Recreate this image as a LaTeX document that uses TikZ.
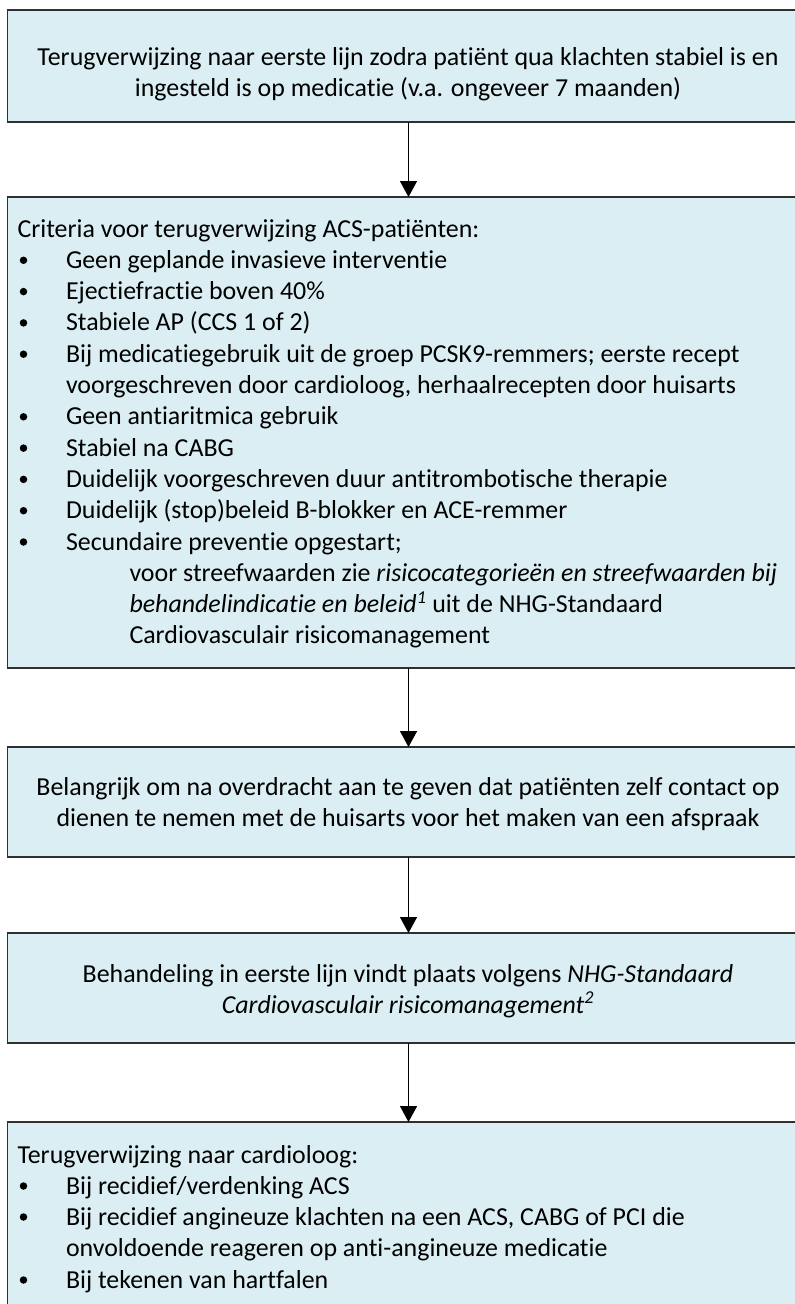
\documentclass[tikz,border=0pt]{standalone}
\usepackage{fontspec}
\setmainfont[Ligatures={NoCommon}]{Carlito}
\usetikzlibrary{arrows.meta}
\definecolor{boxblue}{HTML}{DAEEF3}
\definecolor{edge}{HTML}{303030}
\tikzset{
  flowbox/.style={draw=edge, line width=1.8pt, fill=boxblue, rectangle, inner sep=0pt, outer sep=0pt, minimum width=802pt},
  arr/.style={draw=black, line width=1.5pt, -{Triangle[length=16pt,width=17pt]}},
  txt/.style={inner sep=0pt, outer sep=0pt, font=\fontsize{25.9}{31}\selectfont, text=black},
  bul/.style={circle, fill=black, inner sep=0pt, minimum size=7.5pt}
}
\begin{document}
\begin{tikzpicture}[x=1pt,y=-1pt]
\useasboundingbox (0,0) rectangle (795,1304);
% boxes
\node[flowbox, minimum height=112pt] (b1) at (408.5,66) {};
\node[flowbox, minimum height=471pt] (b2) at (408.5,432.5) {};
\node[flowbox, minimum height=110pt] (b3) at (408.5,802) {};
\node[flowbox, minimum height=110pt] (b4) at (408.5,988) {};
\node[flowbox, minimum height=240pt] (b5) at (408.5,1242) {};
% arrows
\draw[arr] (b1.south) -- (b2.north);
\draw[arr] (b2.south) -- (b3.north);
\draw[arr] (b3.south) -- (b4.north);
\draw[arr] (b4.south) -- (b5.north);
% box 1
\node[txt, anchor=base] (t1a) at (408,65) {Terugverwijzing naar eerste lijn zodra patiënt qua klachten stabiel is en};
\node[txt, anchor=base] (t1b) at (408,96) {ingesteld is op medicatie (v.a. ongeveer 7 maanden)};
% box 2
\node[txt, anchor=base west] (t2h) at (17.5,237) {Criteria voor terugverwijzing ACS-patiënten:};
\node[txt, anchor=base west] (t2a) at (66,268.3) {Geen geplande invasieve interventie};
\node[bul] (u2a) at (23.5,260.3) {};
\node[txt, anchor=base west] (t2b) at (66,299.6) {Ejectiefractie boven 40\%};
\node[bul] (u2b) at (23.5,291.6) {};
\node[txt, anchor=base west] (t2c) at (66,330.9) {Stabiele AP (CCS 1 of 2)};
\node[bul] (u2c) at (23.5,322.9) {};
\node[txt, anchor=base west] (t2d) at (66,362.2) {Bij medicatiegebruik uit de groep PCSK9-remmers; eerste recept};
\node[bul] (u2d) at (23.5,354.2) {};
\node[txt, anchor=base west] (t2d2) at (66,393.5) {voorgeschreven door cardioloog, herhaalrecepten door huisarts};
\node[txt, anchor=base west] (t2e) at (66,424.8) {Geen antiaritmica gebruik};
\node[bul] (u2e) at (23.5,416.8) {};
\node[txt, anchor=base west] (t2f) at (66,456.1) {Stabiel na CABG};
\node[bul] (u2f) at (23.5,448.1) {};
\node[txt, anchor=base west] (t2g) at (66,487.4) {Duidelijk voorgeschreven duur antitrombotische therapie};
\node[bul] (u2g) at (23.5,479.4) {};
\node[txt, anchor=base west] (t2i) at (66,518.7) {Duidelijk (stop)beleid B-blokker en ACE-remmer};
\node[bul] (u2i) at (23.5,510.7) {};
\node[txt, anchor=base west] (t2j) at (66,550) {Secundaire preventie opgestart;};
\node[bul] (u2j) at (23.5,542) {};
\node[txt, anchor=base west] (t2k) at (129.5,581.3) {voor streefwaarden zie \textit{risicocategorieën en streefwaarden bij}};
\node[txt, anchor=base west] (t2l) at (129.5,612.6) {\textit{behandelindicatie en beleid}\textsuperscript{\textit{1}} uit de NHG-Standaard};
\node[txt, anchor=base west] (t2m) at (129.5,643.9) {Cardiovasculair risicomanagement};
% box 3
\node[txt, anchor=base] (t3a) at (408,795.5) {Belangrijk om na overdracht aan te geven dat patiënten zelf contact op};
\node[txt, anchor=base] (t3b) at (408,826) {dienen te nemen met de huisarts voor het maken van een afspraak};
% box 4
\node[txt, anchor=base] (t4a) at (408,982) {Behandeling in eerste lijn vindt plaats volgens \textit{NHG-Standaard}};
\node[txt, anchor=base] (t4b) at (408,1013) {\textit{Cardiovasculair risicomanagement}\textsuperscript{\textit{2}}};
% box 5
\node[txt, anchor=base west] (t5h) at (17.5,1163) {Terugverwijzing naar cardioloog:};
\node[txt, anchor=base west] (t5a) at (66,1194) {Bij recidief/verdenking ACS};
\node[bul] (u5a) at (23.5,1186) {};
\node[txt, anchor=base west] (t5b) at (66,1225) {Bij recidief angineuze klachten na een ACS, CABG of PCI die};
\node[bul] (u5b) at (23.5,1217) {};
\node[txt, anchor=base west] (t5b2) at (66,1256) {onvoldoende reageren op anti-angineuze medicatie};
\node[txt, anchor=base west] (t5c) at (66,1288) {Bij tekenen van hartfalen};
\node[bul] (u5c) at (23.5,1280) {};
\end{tikzpicture}
\end{document}
